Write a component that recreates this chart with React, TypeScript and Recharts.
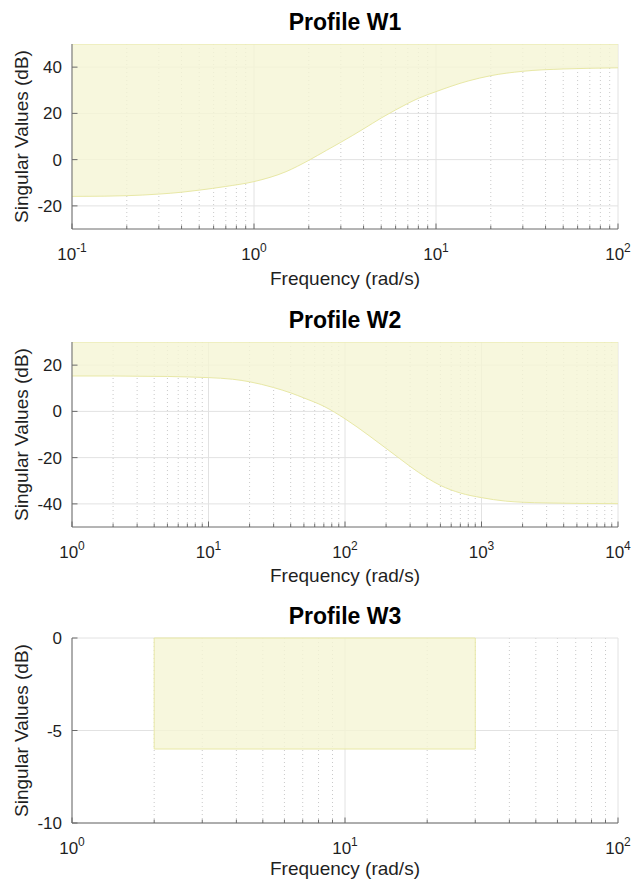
import React from 'react';
import { ComposedChart, Area, XAxis, YAxis, CartesianGrid, ReferenceArea } from 'recharts';

// ---- styling ----
const FONT = '"Liberation Sans", Arial, Helvetica, sans-serif';
const TEXT = '#1f1f1f';
const AXIS_COLOR = '#6b6b6b';
const GRID_MAJOR = '#e2e2e2';
const GRID_MINOR = '#c9c9c9';
const FILL = '#f5f5d4';
const FILL_OPACITY = 0.8;
const EDGE = '#e8e8a6';
const TICK_FONT = 17;
const SUP_FONT = 12;
const LABEL_FONT = 19;
const TITLE_FONT = 23;

// ---- axis structure ----
const MINOR_STEPS = [2, 3, 4, 5, 6, 7, 8, 9];

const W1_DECADES = [0.1, 1, 10, 100];
const W1_Y_TICKS = [-20, 0, 20, 40];
const W1_Y_DOMAIN = [-30, 50];

const W2_DECADES = [1, 10, 100, 1000, 10000];
const W2_Y_TICKS = [-40, -20, 0, 20];
const W2_Y_DOMAIN = [-50, 30];

const W3_DECADES = [1, 10, 100];
const W3_Y_TICKS = [-10, -5, 0];
const W3_Y_DOMAIN = [-10, 0];

// ---- profile W1 (singular values, dB) ----
const w1Freq = [0.1, 0.15, 0.2, 0.3, 0.4, 0.5, 0.7, 1, 1.5, 2, 2.5, 3, 4, 5, 6, 7, 8, 10, 15, 20, 30, 50, 70, 100];
const w1Gain = [-15.9, -15.8, -15.6, -14.9, -14.1, -13.2, -11.6, -9.5, -5.2, -0.3, 4, 7.5, 13.3, 18, 21.5, 24.3, 26.5, 29.4, 34, 36.3, 38.2, 39.2, 39.5, 39.7];

// ---- profile W2 (singular values, dB) ----
const w2Freq = [1, 2, 3, 5, 7, 10, 15, 20, 30, 40, 50, 70, 100, 150, 200, 250, 300, 400, 500, 700, 1000, 1500, 2000, 3000, 5000, 10000];
const w2Gain = [15.3, 15.3, 15.2, 15.1, 14.9, 14.6, 13.9, 12.8, 10.3, 8.0, 5.8, 2.2, -3.2, -10.5, -16, -20.3, -23.8, -28.8, -32, -35.3, -37.3, -38.8, -39.3, -39.6, -39.8, -39.9];

// ---- profile W3 (band limits) ----
const w3FreqBand = [2, 30];
const w3GainBand = [-6, 0];

const minorTicks = (decades: number[]) => {
  const out: number[] = [];
  for (let i = 0; i < decades.length - 1; i++) {
    for (const m of MINOR_STEPS) out.push(Number((decades[i] * m).toPrecision(6)));
  }
  return out;
};

const isDecade = (v: number) => Math.abs(Math.log10(v) - Math.round(Math.log10(v))) < 1e-6;

function BottomTick(props: any) {
  const { x, y, payload } = props;
  const v = payload.value;
  const major = isDecade(v);
  return (
    <g>
      <line x1={x} x2={x} y1={y} y2={y - (major ? 5.5 : 3.5)} stroke={AXIS_COLOR} strokeWidth={1} />
      {major && (
        <text x={x} y={y + 30.5} textAnchor="middle" fontFamily={FONT} fontSize={TICK_FONT} fill={TEXT}>
          10
          <tspan dy={-8} fontSize={SUP_FONT}>{Math.round(Math.log10(v))}</tspan>
        </text>
      )}
    </g>
  );
}

function TopTick(props: any) {
  const { x, y, payload } = props;
  const major = isDecade(payload.value);
  return <line x1={x} x2={x} y1={y} y2={y + (major ? 5.5 : 3.5)} stroke={AXIS_COLOR} strokeWidth={1} />;
}

function LeftTick(props: any) {
  const { x, y, payload } = props;
  return (
    <g>
      <line x1={x} x2={x + 5.5} y1={y} y2={y} stroke={AXIS_COLOR} strokeWidth={1} />
      <text x={x - 10} y={y} dy="0.36em" textAnchor="end" fontFamily={FONT} fontSize={TICK_FONT} fill={TEXT}>
        {payload.value}
      </text>
    </g>
  );
}

function RightTick(props: any) {
  const { x, y } = props;
  return <line x1={x} x2={x - 5.5} y1={y} y2={y} stroke={AXIS_COLOR} strokeWidth={1} />;
}

type PanelProps = {
  top: number;
  height: number;
  marginTop: number;
  xAxisHeight: number;
  decades: number[];
  yTicks: number[];
  yDomain: number[];
  freq?: number[];
  gain?: number[];
  band?: { f: number[]; g: number[] };
};

function Panel({ top, height, marginTop, xAxisHeight, decades, yTicks, yDomain, freq, gain, band }: PanelProps) {
  const minors = minorTicks(decades);
  const allTicks = [...decades, ...minors].sort((a, b) => a - b);
  const xDomain = [decades[0], decades[decades.length - 1]];
  const ceiling = yDomain[1];
  const data = freq && gain ? freq.map((f, i) => ({ f, band: [gain[i], ceiling] })) : [{ f: xDomain[0] }, { f: xDomain[1] }];

  return (
    <div style={{ position: 'absolute', left: 0, top, width: 632, height }}>
      <ComposedChart width={632} height={height} data={data} margin={{ top: marginTop, right: 14, bottom: 0, left: 0 }}>
        <CartesianGrid xAxisId="b" yAxisId="l" horizontal={false} verticalValues={minors} stroke={GRID_MINOR} strokeDasharray="1 3" />
        <CartesianGrid xAxisId="b" yAxisId="l" horizontal={false} verticalValues={decades} stroke={GRID_MAJOR} />
        <CartesianGrid xAxisId="b" yAxisId="l" vertical={false} horizontalValues={yTicks} stroke={GRID_MAJOR} />
        {freq && gain && (
          <Area
            xAxisId="b"
            yAxisId="l"
            dataKey="band"
            type="monotone"
            fill={FILL}
            fillOpacity={FILL_OPACITY}
            stroke={EDGE}
            strokeWidth={1}
            dot={false}
            activeDot={false}
            isAnimationActive={false}
          />
        )}
        {band && (
          <ReferenceArea
            xAxisId="b"
            yAxisId="l"
            x1={band.f[0]}
            x2={band.f[1]}
            y1={band.g[0]}
            y2={band.g[1]}
            fill={FILL}
            fillOpacity={FILL_OPACITY}
            stroke={EDGE}
            strokeWidth={1}
          />
        )}
        <XAxis
          xAxisId="b"
          dataKey="f"
          type="number"
          scale="log"
          domain={xDomain}
          allowDataOverflow
          ticks={allTicks}
          interval={0}
          height={xAxisHeight}
          tickSize={0}
          tickMargin={0}
          tickLine={false}
          axisLine={{ stroke: AXIS_COLOR }}
          tick={(p: any) => <BottomTick {...p} />}
        />
        <XAxis
          xAxisId="t"
          orientation="top"
          dataKey="f"
          type="number"
          scale="log"
          domain={xDomain}
          allowDataOverflow
          ticks={allTicks}
          interval={0}
          height={0}
          tickSize={0}
          tickMargin={0}
          tickLine={false}
          axisLine={{ stroke: AXIS_COLOR }}
          tick={(p: any) => <TopTick {...p} />}
        />
        <YAxis
          yAxisId="l"
          type="number"
          domain={yDomain}
          allowDataOverflow
          ticks={yTicks}
          interval={0}
          width={72}
          tickSize={0}
          tickMargin={0}
          tickLine={false}
          axisLine={{ stroke: AXIS_COLOR }}
          tick={(p: any) => <LeftTick {...p} />}
        />
        <YAxis
          yAxisId="r"
          orientation="right"
          type="number"
          domain={yDomain}
          allowDataOverflow
          ticks={yTicks}
          interval={0}
          width={0}
          tickSize={0}
          tickMargin={0}
          tickLine={false}
          axisLine={{ stroke: AXIS_COLOR }}
          tick={(p: any) => <RightTick {...p} />}
        />
      </ComposedChart>
    </div>
  );
}

const TITLES = ['Profile W1', 'Profile W2', 'Profile W3'];
const X_LABEL = 'Frequency (rad/s)';
const Y_LABEL = 'Singular Values (dB)';

export default function App() {
  return (
    <div style={{ position: 'absolute', left: 0, top: 0, width: 632, height: 884, background: '#fff', overflow: 'hidden' }}>
      <Panel top={0} height={298} marginTop={44} xAxisHeight={69} decades={W1_DECADES} yTicks={W1_Y_TICKS} yDomain={W1_Y_DOMAIN} freq={w1Freq} gain={w1Gain} />
      <Panel top={298} height={298} marginTop={44} xAxisHeight={69} decades={W2_DECADES} yTicks={W2_Y_TICKS} yDomain={W2_Y_DOMAIN} freq={w2Freq} gain={w2Gain} />
      <Panel top={596} height={288} marginTop={42} xAxisHeight={61} decades={W3_DECADES} yTicks={W3_Y_TICKS} yDomain={W3_Y_DOMAIN} band={{ f: w3FreqBand, g: w3GainBand }} />
      <svg width={632} height={884} style={{ position: 'absolute', left: 0, top: 0, pointerEvents: 'none' }}>
        {[
          { title: 30, center: 136.5, xl: 285 },
          { title: 327.5, center: 434.5, xl: 582 },
          { title: 623.5, center: 730.5, xl: 875 },
        ].map((p, i) => (
          <g key={i} fontFamily={FONT} fill={TEXT}>
            <text x={345} y={p.title} textAnchor="middle" fontSize={TITLE_FONT} fontWeight="bold" fill="#000">
              {TITLES[i]}
            </text>
            <text x={345} y={p.xl} textAnchor="middle" fontSize={LABEL_FONT}>
              {X_LABEL}
            </text>
            <text x={28} y={p.center} textAnchor="middle" fontSize={LABEL_FONT} transform={`rotate(-90 28 ${p.center})`}>
              {Y_LABEL}
            </text>
          </g>
        ))}
      </svg>
    </div>
  );
}
